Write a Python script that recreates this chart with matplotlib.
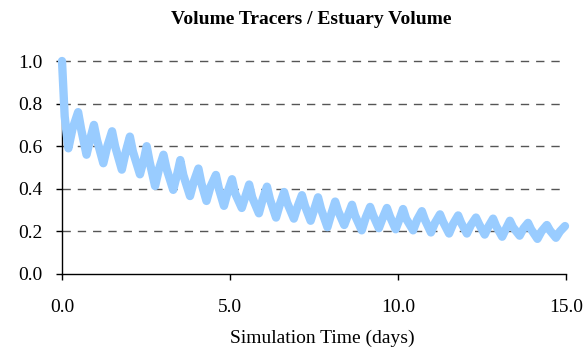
import matplotlib
matplotlib.use("Agg")
import matplotlib.pyplot as plt

# peaks, shoulders (falling limb), troughs and rising-limb points
peak_t = [0.00, 0.48, 0.95, 1.49, 2.02, 2.52, 3.02, 3.52, 4.06, 4.58,
          5.06, 5.57, 6.10, 6.61, 7.14, 7.62, 8.13, 8.63, 9.17, 9.67,
          10.15, 10.71, 11.25, 11.79, 12.32, 12.83, 13.33, 13.87, 14.43, 14.97]
peak_v = [1.00, 0.76, 0.70, 0.67, 0.645, 0.60, 0.56, 0.535, 0.495, 0.465,
          0.445, 0.42, 0.41, 0.385, 0.37, 0.36, 0.34, 0.325, 0.315, 0.31,
          0.305, 0.295, 0.28, 0.275, 0.265, 0.26, 0.25, 0.24, 0.23, 0.225]

shoulder_t = [0.08, 0.57, 1.04, 1.58, 2.11, 2.61, 3.11, 3.61, 4.15, 4.67,
              5.15, 5.66, 6.19, 6.70, 7.23, 7.71, 8.22, 8.72, 9.26, 9.76,
              10.24, 10.80, 11.34, 11.88, 12.41, 12.92, 13.42, 13.96, 14.52]
shoulder_v = [0.74, 0.68, 0.63, 0.60, 0.575, 0.525, 0.495, 0.465, 0.425, 0.40,
              0.38, 0.36, 0.35, 0.335, 0.32, 0.305, 0.295, 0.275, 0.275, 0.27,
              0.26, 0.255, 0.245, 0.24, 0.235, 0.225, 0.22, 0.21, 0.205]

trough_t = [0.19, 0.73, 1.23, 1.78, 2.32, 2.77, 3.31, 3.81, 4.30, 4.82,
            5.35, 5.86, 6.37, 6.90, 7.40, 7.90, 8.40, 8.92, 9.43, 9.93,
            10.45, 10.98, 11.52, 12.05, 12.58, 13.10, 13.62, 14.15, 14.70]
trough_v = [0.59, 0.56, 0.52, 0.49, 0.468, 0.413, 0.395, 0.366, 0.343, 0.32,
            0.31, 0.285, 0.265, 0.26, 0.25, 0.22, 0.23, 0.205, 0.215, 0.21,
            0.205, 0.195, 0.19, 0.19, 0.185, 0.175, 0.18, 0.165, 0.17]

rise_t = [0.31, 0.85, 1.35, 1.90, 2.44, 2.89, 3.43, 3.93, 4.42, 4.94,
          5.47, 5.98, 6.49, 7.02, 7.52, 8.02, 8.52, 9.04, 9.55, 10.05,
          10.57, 11.10, 11.64, 12.17, 12.70, 13.22, 13.74, 14.27, 14.82]
rise_v = [0.68, 0.64, 0.60, 0.575, 0.54, 0.495, 0.47, 0.437, 0.41, 0.39,
          0.37, 0.355, 0.33, 0.32, 0.31, 0.285, 0.28, 0.265, 0.265, 0.26,
          0.255, 0.24, 0.235, 0.23, 0.225, 0.215, 0.215, 0.20, 0.20]

x_ticks = [0, 5, 10, 15]
y_ticks = [0.0, 0.2, 0.4, 0.6, 0.8, 1.0]

# put the points in time order: peak, shoulder, trough, rise, ... last peak
t = []
v = []
for i in range(len(trough_t)):
    t += [peak_t[i], shoulder_t[i], trough_t[i], rise_t[i]]
    v += [peak_v[i], shoulder_v[i], trough_v[i], rise_v[i]]
t.append(peak_t[-1])
v.append(peak_v[-1])

plt.rcParams['font.family'] = ['Liberation Serif', 'DejaVu Serif']

fig = plt.figure(figsize=(5.84, 3.52), dpi=100)
ax = fig.add_axes([62/584, 1 - 274/352, 504/584, 213/352])

ax.plot(t, v, color='#99CCFF', lw=6, solid_joinstyle='round',
        solid_capstyle='round', clip_on=False, zorder=3)

ax.set_xlim(0, 15)
ax.set_ylim(0, 1.0)
ax.set_xticks(x_ticks)
ax.set_yticks(y_ticks)
ax.set_xticklabels(['%.1f' % x for x in x_ticks])
ax.set_yticklabels(['%.1f' % y for y in y_ticks])
ax.tick_params(axis='x', direction='out', length=4, width=1, pad=14,
               labelsize=14, colors='black')
ax.tick_params(axis='y', direction='out', length=4, width=1, pad=10,
               labelsize=14, colors='black')

for y in y_ticks[1:]:
    ax.axhline(y, color='#555555', lw=1, ls=(0, (6, 5)), zorder=1,
               clip_on=False)

for s in ['top', 'right']:
    ax.spines[s].set_visible(False)
for s in ['left', 'bottom']:
    ax.spines[s].set_linewidth(1)
    ax.spines[s].set_color('black')

fig.text(311/584, 1 - 19/352, 'Volume Tracers / Estuary Volume',
         ha='center', va='center', fontsize=14, fontweight='bold')
fig.text(322/584, 1 - 338/352, 'Simulation Time (days)',
         ha='center', va='center', fontsize=14)

fig.savefig('out.png', dpi=100)
